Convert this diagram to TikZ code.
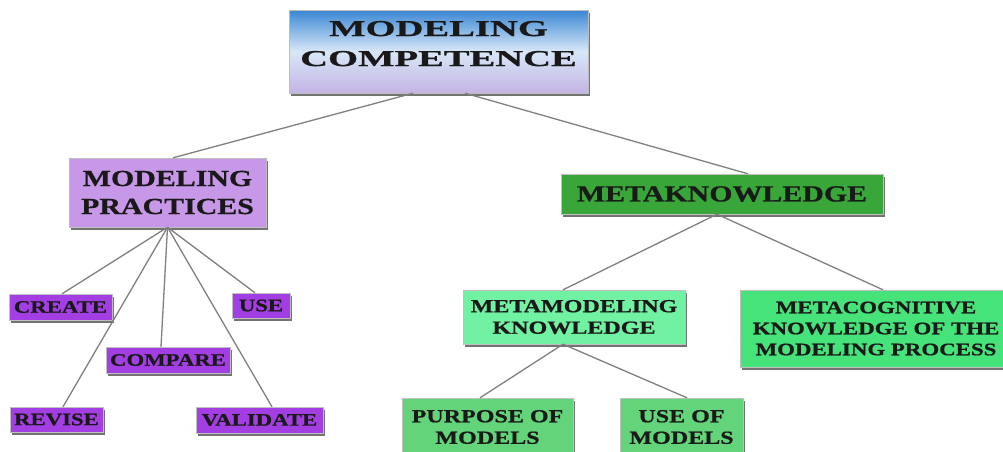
\documentclass[tikz,border=0pt]{standalone}
\usepackage{fontspec}
\newfontfamily\engrave[FakeStretch=1.3,FakeBold=0.8]{Liberation Serif}
\newfontfamily\engravewide[FakeStretch=1.7,FakeBold=0.8]{Liberation Serif}
\usetikzlibrary{shadows}
\definecolor{mcblue}{RGB}{58,135,212}
\definecolor{mclav}{RGB}{196,180,228}
\definecolor{mplav}{RGB}{200,152,232}
\definecolor{leafpurple}{RGB}{162,62,226}
\definecolor{mkgreen}{RGB}{56,166,56}
\definecolor{mmkmint}{RGB}{112,242,162}
\definecolor{mckgreen}{RGB}{70,226,122}
\definecolor{leafgreen}{RGB}{100,212,122}
\begin{document}
\begin{tikzpicture}[x=1pt,y=1pt,
  box/.style={draw=black!25, inner sep=0pt, align=center, text=black!90,
    drop shadow={shadow xshift=1.5pt, shadow yshift=-2.5pt, fill=black, opacity=.55}},
  topbox/.style={box, top color=mcblue, bottom color=mclav, middle color=white!80!mcblue,
    font=\engravewide\bfseries\fontsize{22.7}{30}\selectfont},
  midbox/.style={box, font=\engrave\bfseries\fontsize{23}{28}\selectfont},
  leaf/.style={box, fill=leafpurple, font=\engrave\bfseries\fontsize{17.5}{21}\selectfont},
  subbox/.style={box, font=\engrave\bfseries\fontsize{18.5}{21.5}\selectfont},
  link/.style={draw=black!50, line width=1.3pt}]
\useasboundingbox[fill=white] (0,0) rectangle (1003,-451);
\node[topbox, minimum width=299, minimum height=83, text depth=16pt] (mc) at (438.5,-51.5) {MODELING\\COMPETENCE};
\node[midbox, fill=mplav, minimum width=197, minimum height=69] (mp) at (167.5,-192.5) {MODELING\\PRACTICES};
\node[midbox, fill=mkgreen, minimum width=322, minimum height=40] (mk) at (722,-194) {METAKNOWLEDGE};
\node[leaf, minimum width=103, minimum height=26] (create) at (60.5,-307) {CREATE};
\node[leaf, minimum width=58, minimum height=25] (use) at (261,-305.5) {USE};
\node[leaf, minimum width=124, minimum height=26] (compare) at (168,-360) {COMPARE};
\node[leaf, minimum width=93, minimum height=25] (revise) at (56.5,-419.5) {REVISE};
\node[leaf, minimum width=127, minimum height=26] (validate) at (259.5,-420) {VALIDATE};
\node[subbox, fill=mmkmint, minimum width=222, minimum height=54] (mmk) at (574,-317) {METAMODELING\\KNOWLEDGE};
\node[subbox, fill=mckgreen, minimum width=272, minimum height=77, font=\engrave\bfseries\fontsize{17.6}{21}\selectfont] (mck) at (876,-328.5) {METACOGNITIVE\\KNOWLEDGE OF THE\\MODELING PROCESS};
\node[subbox, fill=leafgreen, minimum width=171, minimum height=58] (purpose) at (487.5,-427) {PURPOSE OF\\MODELS};
\node[subbox, fill=leafgreen, minimum width=123, minimum height=58] (usem) at (681.5,-427) {USE OF\\MODELS};
\draw[link] ([xshift=-25.5]mc.south) -- ([xshift=5.5]mp.north);
\draw[link] ([xshift=26.5]mc.south) -- ([xshift=26]mk.north);
\draw[link] (mp.south) -- ([xshift=1.5]create.north);
\draw[link] (mp.south) -- ([xshift=6.5]revise.north);
\draw[link] (mp.south) -- ([xshift=-7]compare.north);
\draw[link] (mp.south) -- ([xshift=12.5]validate.north);
\draw[link] (mp.south) -- ([xshift=-6]use.north);
\draw[link] ([xshift=-5]mk.south) -- ([xshift=-11]mmk.north);
\draw[link] ([xshift=-5]mk.south) -- ([xshift=7]mck.north);
\draw[link] ([xshift=-11]mmk.south) -- ([xshift=-7.5]purpose.north);
\draw[link] ([xshift=-11]mmk.south) -- ([xshift=5.5]usem.north);
\end{tikzpicture}
\end{document}
